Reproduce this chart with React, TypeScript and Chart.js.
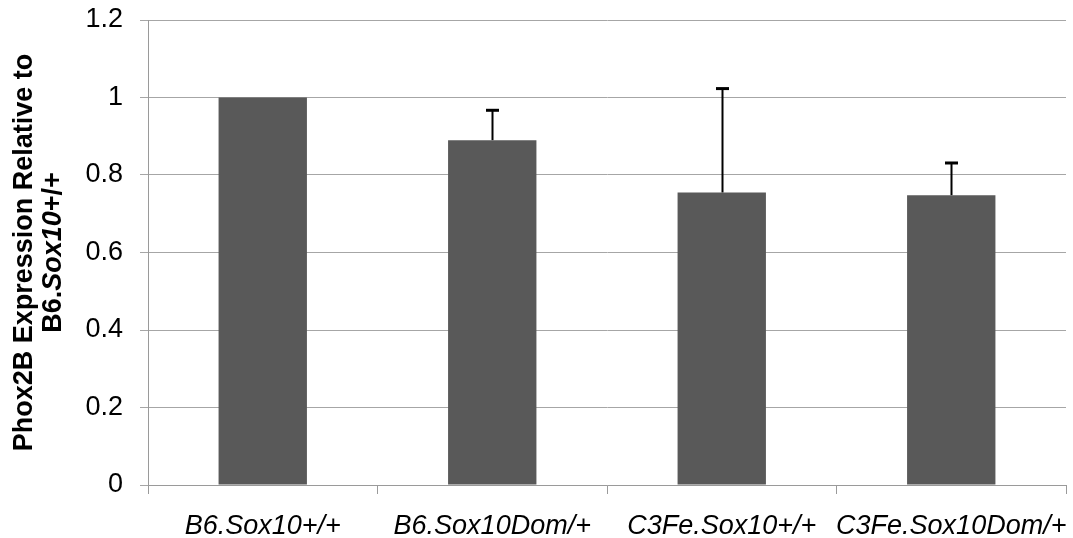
import React, { useEffect, useRef } from "react";
import { Chart, registerables } from "chart.js";

Chart.register(...registerables);

const categories = ["B6.Sox10+/+", "B6.Sox10Dom/+", "C3Fe.Sox10+/+", "C3Fe.Sox10Dom/+"];
const expression = [1.0, 0.89, 0.755, 0.748];
const errorUpper = [0, 0.077, 0.268, 0.083];
const yTickValues = [0, 0.2, 0.4, 0.6, 0.8, 1, 1.2];
const yTickLabels = ["0", "0.2", "0.4", "0.6", "0.8", "1", "1.2"];
const yTitleLine1 = "Phox2B Expression Relative to";
const yTitleLine2 = [
  { text: "B6.", italic: false },
  { text: "Sox10", italic: true },
  { text: "+/+", italic: false },
];

const FONT = "'Liberation Sans', Arial, sans-serif";

const errorBarPlugin = {
  id: "errorBars",
  afterDatasetsDraw(chart: any) {
    const meta = chart.getDatasetMeta(0);
    const yScale = chart.scales.y;
    const ctx = chart.ctx;
    ctx.save();
    ctx.strokeStyle = "#000000";
    meta.data.forEach((bar: any, i: number) => {
      const e = errorUpper[i];
      if (!e) return;
      const x = Math.round(bar.x) + 0.5;
      const y0 = yScale.getPixelForValue(expression[i]);
      const y1 = yScale.getPixelForValue(expression[i] + e);
      ctx.lineWidth = 2;
      ctx.beginPath();
      ctx.moveTo(x, y0);
      ctx.lineTo(x, y1);
      ctx.stroke();
      ctx.lineWidth = 3;
      ctx.beginPath();
      ctx.moveTo(x - 6.5, y1);
      ctx.lineTo(x + 6.5, y1);
      ctx.stroke();
    });
    ctx.restore();
  },
};

const yTitlePlugin = {
  id: "yTitle",
  afterDraw(chart: any) {
    const ctx = chart.ctx;
    const area = chart.chartArea;
    const cy = (area.top + area.bottom) / 2;
    ctx.save();
    ctx.fillStyle = "#000000";
    ctx.textBaseline = "middle";
    ctx.save();
    ctx.translate(25, cy);
    ctx.rotate(-Math.PI / 2);
    ctx.font = `bold 27px ${FONT}`;
    ctx.textAlign = "center";
    ctx.fillText(yTitleLine1, 0, 0);
    ctx.restore();
    ctx.save();
    ctx.translate(54, cy);
    ctx.rotate(-Math.PI / 2);
    ctx.textAlign = "left";
    const fonts = yTitleLine2.map((s) => `${s.italic ? "italic " : ""}bold 27px ${FONT}`);
    let total = 0;
    const widths = yTitleLine2.map((s, i) => {
      ctx.font = fonts[i];
      const w = ctx.measureText(s.text).width;
      total += w;
      return w;
    });
    let x = -total / 2;
    yTitleLine2.forEach((s, i) => {
      ctx.font = fonts[i];
      ctx.fillText(s.text, x, 0);
      x += widths[i];
    });
    ctx.restore();
    ctx.restore();
  },
};

export default function App() {
  const ref = useRef<HTMLCanvasElement | null>(null);

  useEffect(() => {
    document.body.style.margin = "0";
    const canvas = ref.current;
    if (!canvas) return;
    const chart = new Chart(canvas, {
      type: "bar",
      data: {
        labels: categories,
        datasets: [
          {
            data: expression,
            backgroundColor: "#595959",
            borderWidth: 0,
            barPercentage: 0.385,
            categoryPercentage: 1,
          },
        ],
      },
      options: {
        animation: false,
        responsive: true,
        maintainAspectRatio: false,
        layout: { padding: { top: 20, right: 7, left: 0, bottom: 0 } },
        plugins: {
          legend: { display: false },
          tooltip: { enabled: false },
        },
        scales: {
          x: {
            offset: true,
            grid: {
              display: true,
              drawOnChartArea: false,
              offset: true,
              tickLength: 9,
              color: "#9a9a9a",
            },
            border: { display: true, color: "#9a9a9a" },
            ticks: {
              color: "#000000",
              padding: 16,
              maxRotation: 0,
              autoSkip: false,
              font: { family: FONT, size: 27, style: "italic" },
            },
            afterFit(scale: any) {
              scale.height = 53;
              scale.paddingLeft = 0;
              scale.paddingRight = 0;
            },
          },
          y: {
            min: 0,
            max: 1.2,
            afterBuildTicks(scale: any) {
              scale.ticks = yTickValues.map((v) => ({ value: v }));
            },
            grid: {
              color: "#a6a6a6",
              tickLength: 8,
            },
            border: { display: true, color: "#9a9a9a" },
            ticks: {
              color: "#000000",
              padding: 17,
              font: { family: FONT, size: 27 },
              callback: (_v: any, i: number) => yTickLabels[i],
            },
            afterFit(scale: any) {
              scale.width = 148;
              scale.paddingTop = 0;
              scale.paddingBottom = 0;
            },
          },
        },
      },
      plugins: [errorBarPlugin, yTitlePlugin],
    });
    return () => chart.destroy();
  }, []);

  return (
    <div style={{ width: 1073, height: 538, position: "relative" }}>
      <canvas ref={ref} />
    </div>
  );
}
